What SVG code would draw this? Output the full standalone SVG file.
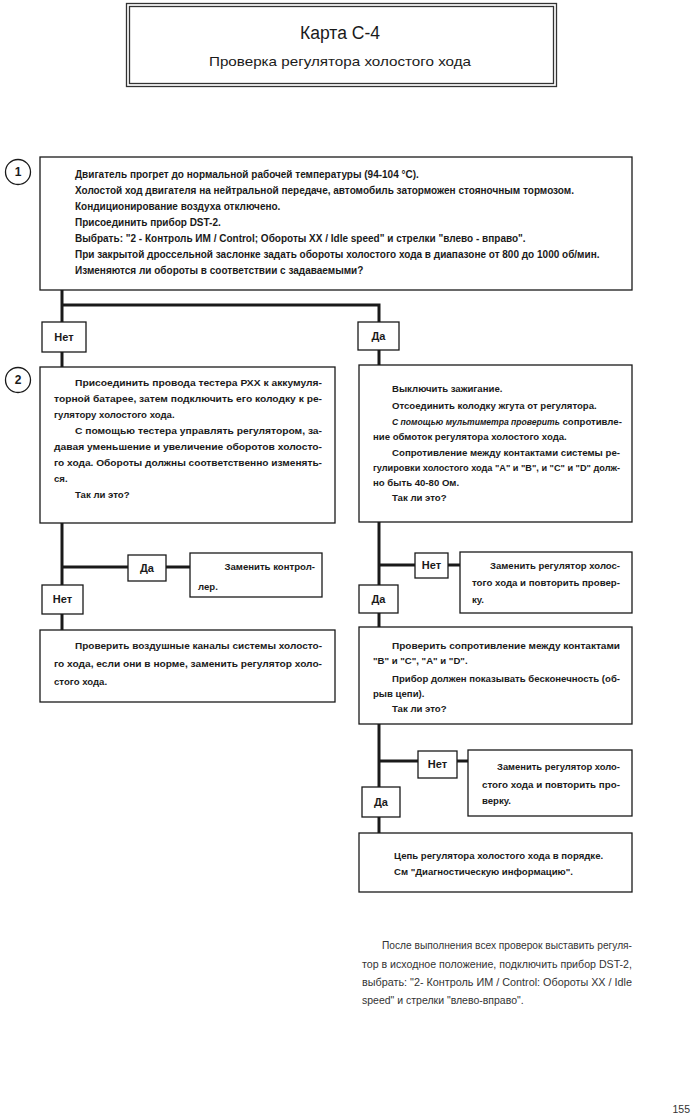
<svg xmlns="http://www.w3.org/2000/svg" width="695" height="1118" viewBox="0 0 695 1118">
<style>
.bg{fill:#fff}
.box{fill:#fff;stroke:#1a1a1a;stroke-width:1.3}
.lbl{fill:#fff;stroke:#1a1a1a;stroke-width:1.3}
.conn{fill:none;stroke:#1a1a1a;stroke-width:3}
.t{font-family:"Liberation Sans",Arial,sans-serif;font-size:9.6px;font-weight:bold;fill:#1a1a1a}
.t1{font-size:10px}
.it{font-style:italic;font-size:8.6px}
.lt{font-family:"Liberation Sans",Arial,sans-serif;font-size:11px;font-weight:bold;fill:#1a1a1a;text-anchor:middle}
.num{font-family:"Liberation Sans",Arial,sans-serif;font-size:12px;font-weight:bold;fill:#1a1a1a;text-anchor:middle}
.note{font-family:"Liberation Sans",Arial,sans-serif;font-size:10.5px;fill:#333}
.title{font-family:"Liberation Sans",Arial,sans-serif;fill:#1a1a1a;text-anchor:middle}
</style>
<rect class="bg" x="0" y="0" width="695" height="1118"/>

<g id="title">
<rect x="126.5" y="3.5" width="430" height="83" fill="#fff" stroke="#333" stroke-width="1.3"/>
<rect x="129.5" y="6.5" width="424" height="77" fill="none" stroke="#333" stroke-width="1.3"/>
<text class="title" x="340" y="39" font-size="18" textLength="80" lengthAdjust="spacingAndGlyphs">Карта С-4</text>
<text class="title" x="340" y="66" font-size="13" textLength="262" lengthAdjust="spacingAndGlyphs">Проверка регулятора холостого хода</text>
</g>

<g id="connectors">
<path class="conn" d="M62 290 V367"/>
<path class="conn" d="M62 305 H379 V365"/>
<path class="conn" d="M62 523 V630"/>
<path class="conn" d="M62 567 H128 M166 567 H190"/>
<path class="conn" d="M379 522 V627"/>
<path class="conn" d="M379 565 H415 M448 565 H460"/>
<path class="conn" d="M379 724 V833"/>
<path class="conn" d="M379 761 H418 M457 761 H468"/>
</g>

<g id="step1">
<circle cx="18" cy="172" r="12.5" fill="#fff" stroke="#1a1a1a" stroke-width="1.3"/>
<text class="num" x="18" y="176">1</text>
</g>
<g id="step2">
<circle cx="18" cy="380" r="12.5" fill="#fff" stroke="#1a1a1a" stroke-width="1.3"/>
<text class="num" x="18" y="384">2</text>
</g>

<g id="box1">
<rect class="box" x="40" y="157" width="592" height="133"/>
<text class="t t1" x="75" y="178">Двигатель прогрет до нормальной рабочей температуры (94-104 °С).</text>
<text class="t t1" x="75" y="194">Холостой ход двигателя на нейтральной передаче, автомобиль заторможен стояночным тормозом.</text>
<text class="t t1" x="75" y="210">Кондиционирование воздуха отключено.</text>
<text class="t t1" x="75" y="226">Присоединить прибор DST-2.</text>
<text class="t t1" x="75" y="242">Выбрать: "2 - Контроль ИМ / Control; Обороты XX / Idle speed" и стрелки "влево - вправо".</text>
<text class="t t1" x="75" y="258">При закрытой дроссельной заслонке задать обороты холостого хода в диапазоне от 800 до 1000 об/мин.</text>
<text class="t t1" x="75" y="274">Изменяются ли обороты в соответствии с задаваемыми?</text>
</g>

<g id="no1">
<rect class="lbl" x="42" y="322" width="44" height="30"/>
<text class="lt" x="64" y="341">Нет</text>
</g>
<g id="yes1">
<rect class="lbl" x="358" y="322" width="41" height="28"/>
<text class="lt" x="378.5" y="340">Да</text>
</g>

<g id="box2">
<rect class="box" x="40" y="367" width="295" height="156"/>
<text class="t" x="75" y="386" textLength="247" lengthAdjust="spacingAndGlyphs">Присоединить провода тестера РХХ к аккумуля-</text>
<text class="t" x="54" y="402" textLength="268" lengthAdjust="spacingAndGlyphs">торной батарее, затем подключить его колодку к ре-</text>
<text class="t" x="54" y="418">гулятору холостого хода.</text>
<text class="t" x="75" y="434" textLength="247" lengthAdjust="spacingAndGlyphs">С помощью тестера управлять регулятором, за-</text>
<text class="t" x="54" y="450" textLength="268" lengthAdjust="spacingAndGlyphs">давая уменьшение и увеличение оборотов холосто-</text>
<text class="t" x="54" y="466" textLength="268" lengthAdjust="spacingAndGlyphs">го хода. Обороты должны соответственно изменять-</text>
<text class="t" x="54" y="482">ся.</text>
<text class="t" x="75" y="498">Так ли это?</text>
</g>

<g id="box3">
<rect class="box" x="359" y="365" width="273" height="157"/>
<text class="t" x="392" y="392">Выключить зажигание.</text>
<text class="t" x="392" y="409">Отсоединить колодку жгута от регулятора.</text>
<text class="t" x="392" y="425"><tspan class="it">С помощью мультиметра проверить</tspan> сопротивле-</text>
<text class="t" x="373" y="440">ние обмоток регулятора холостого хода.</text>
<text class="t" x="392" y="456" textLength="228" lengthAdjust="spacingAndGlyphs">Сопротивление между контактами системы ре-</text>
<text class="t" x="373" y="471" textLength="247" lengthAdjust="spacingAndGlyphs">гулировки холостого хода "А" и "В", и "С" и "D" долж-</text>
<text class="t" x="373" y="486">но быть 40-80 Ом.</text>
<text class="t" x="392" y="501">Так ли это?</text>
</g>

<g id="yes2">
<rect class="lbl" x="128" y="555" width="38" height="26"/>
<text class="lt" x="147" y="572">Да</text>
</g>
<g id="box4">
<rect class="box" x="190" y="553" width="132" height="44"/>
<text class="t" x="315" y="570" text-anchor="end">Заменить контрол-</text>
<text class="t" x="198" y="590">лер.</text>
</g>
<g id="no2">
<rect class="lbl" x="42" y="585" width="41" height="29"/>
<text class="lt" x="62.5" y="603">Нет</text>
</g>
<g id="box5">
<rect class="box" x="40" y="630" width="295" height="72"/>
<text class="t" x="75" y="649" textLength="247" lengthAdjust="spacingAndGlyphs">Проверить воздушные каналы системы холосто-</text>
<text class="t" x="54" y="667" textLength="268" lengthAdjust="spacingAndGlyphs">го хода, если они в норме, заменить регулятор холо-</text>
<text class="t" x="54" y="685">стого хода.</text>
</g>

<g id="no3">
<rect class="lbl" x="415" y="553" width="33" height="25"/>
<text class="lt" x="431.5" y="569">Нет</text>
</g>
<g id="box6">
<rect class="box" x="460" y="552" width="172" height="61"/>
<text class="t" x="490" y="569" textLength="130" lengthAdjust="spacingAndGlyphs">Заменить регулятор холос-</text>
<text class="t" x="472" y="586" textLength="148" lengthAdjust="spacingAndGlyphs">того хода и повторить провер-</text>
<text class="t" x="472" y="603">ку.</text>
</g>
<g id="yes3">
<rect class="lbl" x="359" y="585" width="39" height="28"/>
<text class="lt" x="378.5" y="603">Да</text>
</g>
<g id="box7">
<rect class="box" x="359" y="627" width="273" height="97"/>
<text class="t" x="392" y="649" textLength="228" lengthAdjust="spacingAndGlyphs">Проверить сопротивление между контактами</text>
<text class="t" x="373" y="664">"В" и "С", "А" и "D".</text>
<text class="t" x="392" y="682" textLength="228" lengthAdjust="spacingAndGlyphs">Прибор должен показывать бесконечность (об-</text>
<text class="t" x="373" y="697">рыв цепи).</text>
<text class="t" x="392" y="712">Так ли это?</text>
</g>

<g id="no4">
<rect class="lbl" x="418" y="751" width="39" height="27"/>
<text class="lt" x="437.5" y="768">Нет</text>
</g>
<g id="box8">
<rect class="box" x="468" y="750" width="164" height="66"/>
<text class="t" x="497" y="770" textLength="123" lengthAdjust="spacingAndGlyphs">Заменить регулятор холо-</text>
<text class="t" x="482" y="788" textLength="138" lengthAdjust="spacingAndGlyphs">стого хода и повторить про-</text>
<text class="t" x="482" y="804">верку.</text>
</g>
<g id="yes4">
<rect class="lbl" x="362" y="787" width="38" height="30"/>
<text class="lt" x="381" y="806">Да</text>
</g>
<g id="box9">
<rect class="box" x="359" y="833" width="273" height="59"/>
<text class="t" x="394" y="859">Цепь регулятора холостого хода в порядке.</text>
<text class="t" x="394" y="875">См "Диагностическую информацию".</text>
</g>

<g id="note">
<text class="note" x="382" y="949" textLength="250" lengthAdjust="spacingAndGlyphs">После выполнения всех проверок выставить регуля-</text>
<text class="note" x="362" y="968" textLength="270" lengthAdjust="spacingAndGlyphs">тор в исходное положение, подключить прибор DST-2,</text>
<text class="note" x="362" y="986" textLength="270" lengthAdjust="spacingAndGlyphs">выбрать: "2- Контроль ИМ / Control: Обороты XX / Idle</text>
<text class="note" x="362" y="1004">speed" и стрелки "влево-вправо".</text>
</g>

<g id="page">
<text class="note" x="690" y="1113" text-anchor="end" font-size="11">155</text>
</g>
</svg>
